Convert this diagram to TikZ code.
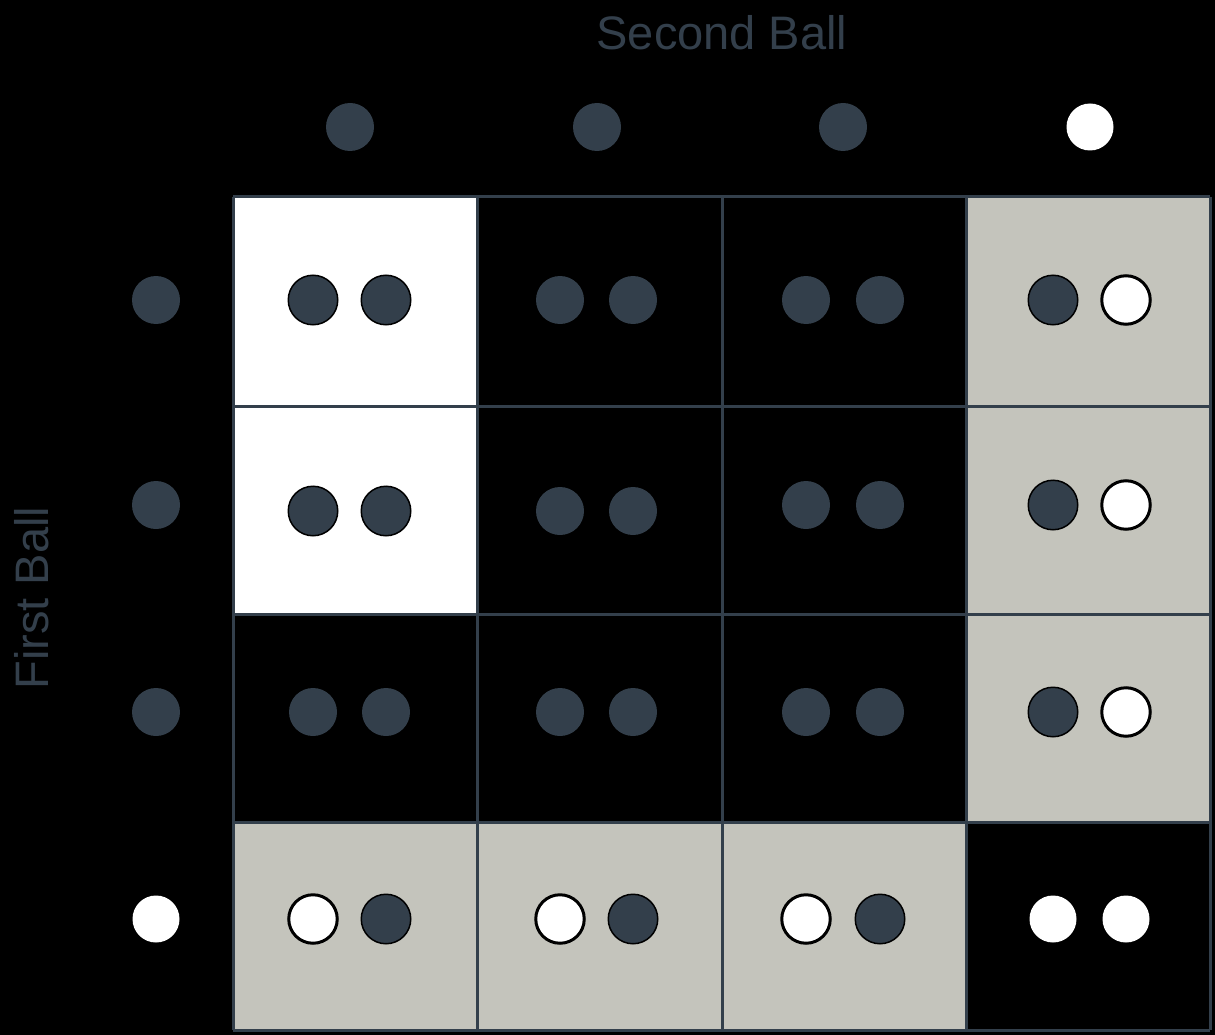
\documentclass[tikz,border=0pt]{standalone}
\usepackage{fontspec}
\setmainfont{Liberation Sans}
\definecolor{slate}{HTML}{333F4B}
\definecolor{pgray}{HTML}{C4C4BC}
\begin{document}
\begin{tikzpicture}[x=1pt,y=-1pt,
  dball/.style={circle, fill=slate, draw=black, line width=1.5pt, minimum size=49.5pt, inner sep=0pt},
  wball/.style={circle, fill=white, draw=black, line width=3pt, minimum size=48.5pt, inner sep=0pt},
  hdball/.style={circle, fill=slate, minimum size=48pt, inner sep=0pt},
  hwball/.style={circle, fill=white, minimum size=47pt, inner sep=0pt},
  lbl/.style={text=slate, font=\fontsize{47}{56}\selectfont, inner sep=0pt},
  gridline/.style={draw=slate, line width=3pt}]
\fill[black] (0,0) rectangle (1215,1035);
\useasboundingbox (0,0) rectangle (1215,1035);
% cell fills
\fill[white] (233,197) rectangle (477,614);
\fill[pgray] (966,197) rectangle (1210,822);
\fill[pgray] (233,822) rectangle (966,1030);
% grid
\foreach \x in {233,477,722,966,1210} \draw[gridline] (\x,197) -- (\x,1030);
\foreach \y in {197,406,614,822,1030} \draw[gridline] (233,\y) -- (1210,\y);
% labels
\node[lbl] (second) at (722,33) {Second Ball};
\node[lbl, rotate=90] (first) at (32,598) {First Ball};
% header balls
\node[hdball] (h1) at (350,127) {};
\node[hdball] (h2) at (597,127) {};
\node[hdball] (h3) at (843,127) {};
\node[hwball] (h4) at (1090,127) {};
\node[hdball] (v1) at (156,300) {};
\node[hdball] (v2) at (156,505) {};
\node[hdball] (v3) at (156,712) {};
\node[hwball] (v4) at (156,919) {};
% row 1
\node[dball] (r1c1a) at (313,300) {};
\node[dball] (r1c1b) at (386,300) {};
\node[hdball] (r1c2a) at (560,300) {};
\node[hdball] (r1c2b) at (633,300) {};
\node[hdball] (r1c3a) at (806,300) {};
\node[hdball] (r1c3b) at (880,300) {};
\node[dball] (r1c4a) at (1053,300) {};
\node[wball] (r1c4b) at (1126,300) {};
% row 2
\node[dball] (r2c1a) at (313,511) {};
\node[dball] (r2c1b) at (386,511) {};
\node[hdball] (r2c2a) at (560,511) {};
\node[hdball] (r2c2b) at (633,511) {};
\node[hdball] (r2c3a) at (806,505) {};
\node[hdball] (r2c3b) at (880,505) {};
\node[dball] (r2c4a) at (1053,505) {};
\node[wball] (r2c4b) at (1126,505) {};
% row 3
\node[hdball] (r3c1a) at (313,712) {};
\node[hdball] (r3c1b) at (386,712) {};
\node[hdball] (r3c2a) at (560,712) {};
\node[hdball] (r3c2b) at (633,712) {};
\node[hdball] (r3c3a) at (806,712) {};
\node[hdball] (r3c3b) at (880,712) {};
\node[dball] (r3c4a) at (1053,712) {};
\node[wball] (r3c4b) at (1126,712) {};
% row 4
\node[wball] (r4c1a) at (313,919) {};
\node[dball] (r4c1b) at (386,919) {};
\node[wball] (r4c2a) at (560,919) {};
\node[dball] (r4c2b) at (633,919) {};
\node[wball] (r4c3a) at (806,919) {};
\node[dball] (r4c3b) at (880,919) {};
\node[hwball] (r4c4a) at (1053,919) {};
\node[hwball] (r4c4b) at (1126,919) {};
\end{tikzpicture}
\end{document}
